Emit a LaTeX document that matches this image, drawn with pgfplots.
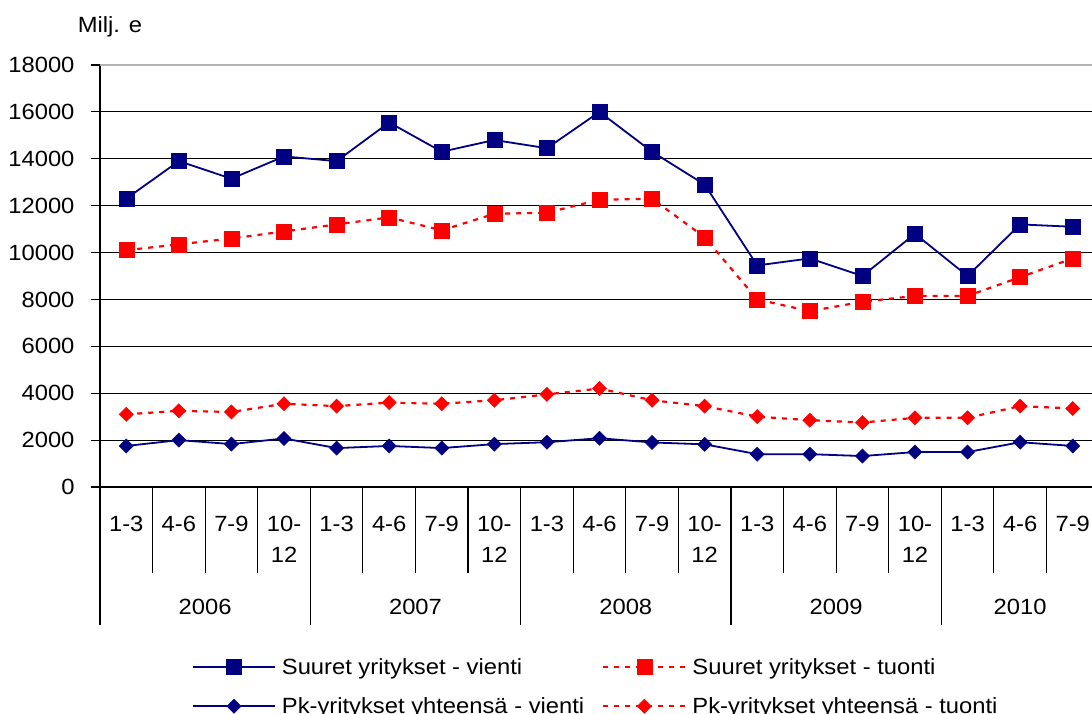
\documentclass[border=0pt]{standalone}
\usepackage{pgfplots}
\usepackage{pgfplotstable}
\pgfplotsset{compat=1.18}
\usepackage{fontspec}
\setmainfont{Liberation Sans}[FakeStretch=1.08]
\definecolor{navy}{RGB}{0,0,128}
\definecolor{exred}{RGB}{255,0,0}
\newcommand{\ff}{\fontsize{22}{31}\selectfont}

\pgfplotstableread{
x  sv     st     pv    pt
0  12300  10100  1750  3100
1  13900  10350  2000  3250
2  13150  10600  1830  3200
3  14100  10900  2070  3550
4  13900  11200  1660  3450
5  15550  11500  1750  3600
6  14300  10950  1660  3550
7  14800  11650  1830  3700
8  14450  11700  1910  3950
9  16000  12250  2080  4200
10 14300  12300  1900  3700
11 12900  10650  1820  3450
12 9450   8000   1400  3000
13 9750   7500   1400  2850
14 9000   7900   1320  2750
15 10800  8150   1490  2950
16 9000   8150   1490  2950
17 11200  8950   1910  3450
18 11100  9750   1750  3350
}\data

\begin{document}
\begin{tikzpicture}
\useasboundingbox (0,0) rectangle (1092pt,714pt);
\node[font=\ff] at (110pt,687pt) {Milj. e};
\begin{axis}[
  at={(100pt,227pt)}, anchor=south west,
  scale only axis, width=999pt, height=422pt,
  xmin=-0.5, xmax=18.5, ymin=0, ymax=18000,
  axis x line=bottom, axis y line=left,
  axis line style={-, line width=1.6pt, black},
  ytick={0,2000,...,16000},
  extra y ticks={18000},
  extra y tick style={grid style={gray!60, line width=1.4pt}},
  scaled y ticks=false,
  ymajorgrids, grid style={black, line width=0.8pt},
  y tick style={black, line width=1.2pt},
  tick align=outside, major tick length=9pt,
  xtick={0,...,18},
  xticklabels={1-3,4-6,7-9,{10-\\12},1-3,4-6,7-9,{10-\\12},1-3,4-6,7-9,{10-\\12},1-3,4-6,7-9,{10-\\12},1-3,4-6,7-9},
  x tick style={draw=none},
  xticklabel style={font=\ff, align=center, anchor=north, yshift=-17pt},
  yticklabel style={font=\ff, anchor=east, xshift=-13pt},
  /pgf/number format/assume math mode=true,
  /pgf/number format/1000 sep={},
  clip=false,
  legend columns=2,
  legend cell align=left,
  legend style={at={(axis description cs:0.092,-0.405)}, anchor=north west,
    draw=none, fill=none, font=\ff, inner sep=0pt,
    nodes={inner sep=0pt},
    row sep=22pt, column sep=6pt,
    /tikz/every even column/.append style={column sep=18pt}},
  legend image code/.code={\draw[mark repeat=2,mark phase=2,#1] plot coordinates {(0pt,0pt) (41pt,0pt) (82pt,0pt)};},
]
\addplot[navy, line width=1.8pt, mark=square*, mark size=7.5pt, mark options={solid, line width=0.5pt}] table[x=x,y=sv] {\data};
\addlegendentry{Suuret yritykset - vienti}
\addplot[exred, line width=2.2pt, dash pattern=on 5pt off 6pt, mark=square*, mark size=7.5pt, mark options={solid, line width=0.5pt}] table[x=x,y=st] {\data};
\addlegendentry{Suuret yritykset - tuonti}
\addplot[navy, line width=1.8pt, mark=square*, mark size=5pt, mark options={solid, rotate=45, line width=0.5pt}] table[x=x,y=pv] {\data};
\addlegendentry{Pk-yritykset yhteensä - vienti}
\addplot[exred, line width=2.2pt, dash pattern=on 5pt off 6pt, mark=square*, mark size=5pt, mark options={solid, rotate=45, line width=0.5pt}] table[x=x,y=pt] {\data};
\addlegendentry{Pk-yritykset yhteensä - tuonti}
\pgfplotsinvokeforeach{0.5,1.5,2.5,4.5,5.5,6.5,8.5,9.5,10.5,12.5,13.5,14.5,16.5,17.5}{
  \draw[line width=1.2pt] (axis cs:#1,0) -- ++(0pt,-86pt);
}
\pgfplotsinvokeforeach{-0.5,3.5,7.5,11.5,15.5,18.5}{
  \draw[line width=1.4pt] (axis cs:#1,0) -- ++(0pt,-138pt);
}
\node[font=\ff, anchor=base, yshift=-127.5pt] at (axis cs:1.5,0) {2006};
\node[font=\ff, anchor=base, yshift=-127.5pt] at (axis cs:5.5,0) {2007};
\node[font=\ff, anchor=base, yshift=-127.5pt] at (axis cs:9.5,0) {2008};
\node[font=\ff, anchor=base, yshift=-127.5pt] at (axis cs:13.5,0) {2009};
\node[font=\ff, anchor=base, yshift=-127.5pt] at (axis cs:17,0) {2010};
\end{axis}
\end{tikzpicture}
\end{document}
